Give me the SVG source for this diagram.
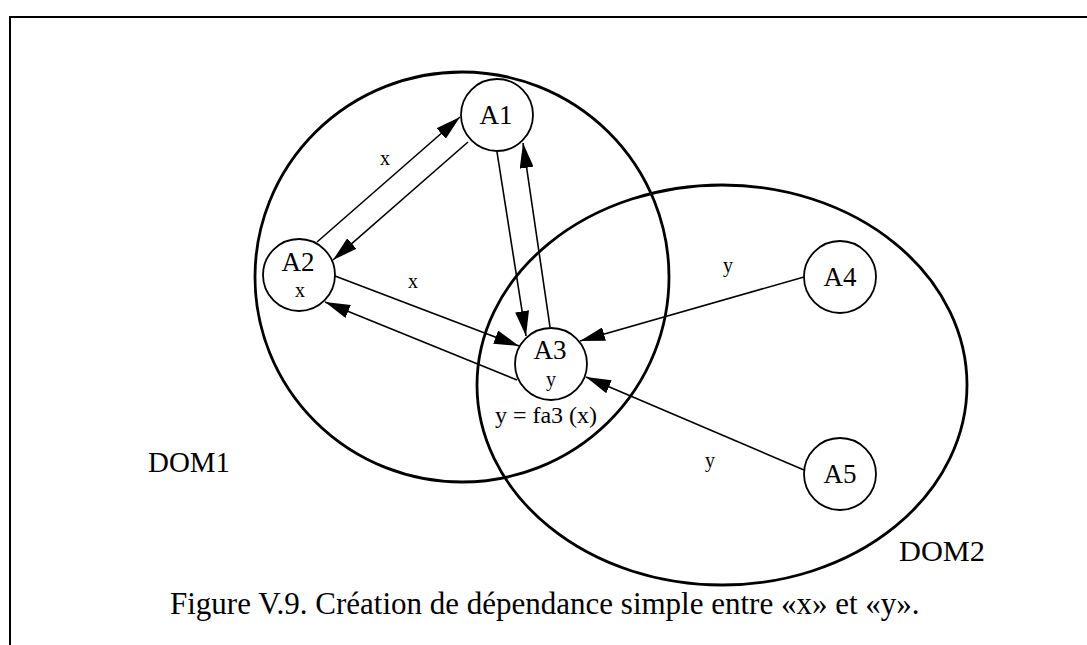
<svg xmlns="http://www.w3.org/2000/svg" width="1087" height="645" viewBox="0 0 1087 645">
<style>
.bg{fill:#fff}
.frame{stroke:#000;stroke-width:2;fill:none}
.dom{fill:none;stroke:#000;stroke-width:2.8}
.node{fill:#fff;stroke:#000;stroke-width:1.8}
.edge{stroke:#000;stroke-width:1.6;fill:none;marker-end:url(#ah)}
text{font-family:"Liberation Serif","Times New Roman",serif;fill:#000}
.nl{font-size:27px;text-anchor:middle}
.sl{font-size:20px;text-anchor:middle}
.dl{font-size:29px}
</style>
<defs>
<marker id="ah" viewBox="0 0 25 14" refX="25" refY="7" markerWidth="25" markerHeight="14" markerUnits="userSpaceOnUse" orient="auto">
<path d="M0,0 L25,7 L0,14 Z" fill="#000"/>
</marker>
</defs>
<rect class="bg" x="0" y="0" width="1087" height="645"/>
<g id="frame">
<path class="frame" d="M10,645 L10,17 L1087,17"/>
</g>
<g id="DOM1">
<ellipse class="dom" cx="462" cy="277" rx="207" ry="205"/>
<text class="dl" x="148" y="472" textLength="82" lengthAdjust="spacingAndGlyphs">DOM1</text>
</g>
<g id="DOM2">
<ellipse class="dom" cx="722" cy="385" rx="245" ry="200"/>
<text class="dl" x="899" y="561" textLength="86" lengthAdjust="spacingAndGlyphs">DOM2</text>
</g>
<g id="connectors">
<line class="edge" x1="317" y1="242" x2="460" y2="117"/>
<line class="edge" x1="468" y1="142" x2="333" y2="260"/>
<line class="edge" x1="497" y1="152" x2="526" y2="336"/>
<line class="edge" x1="550" y1="327" x2="523" y2="143"/>
<line class="edge" x1="335" y1="276" x2="519" y2="346"/>
<line class="edge" x1="517" y1="380" x2="325" y2="302"/>
<line class="edge" x1="804" y1="277" x2="580" y2="341"/>
<line class="edge" x1="804" y1="470" x2="586" y2="377"/>
<text class="sl" x="385" y="165">x</text>
<text class="sl" x="413" y="288">x</text>
<text class="sl" x="728" y="272">y</text>
<text class="sl" x="710" y="467">y</text>
</g>
<g id="A1">
<circle class="node" cx="497" cy="115" r="36"/>
<text class="nl" x="496" y="124">A1</text>
</g>
<g id="A2">
<circle class="node" cx="299" cy="275" r="36"/>
<text class="nl" x="298" y="271">A2</text>
<text class="sl" x="300" y="297">x</text>
</g>
<g id="A3">
<circle class="node" cx="551" cy="364" r="36"/>
<text class="nl" x="550" y="359">A3</text>
<text class="sl" x="551" y="386">y</text>
<text class="sl" x="546" y="423" style="font-size:24px">y = fa3 (x)</text>
</g>
<g id="A4">
<circle class="node" cx="840" cy="277" r="36"/>
<text class="nl" x="840" y="286">A4</text>
</g>
<g id="A5">
<circle class="node" cx="840" cy="474" r="36"/>
<text class="nl" x="840" y="483">A5</text>
</g>
<g id="caption">
<text x="170" y="614" style="font-size:31px">Figure V.9. Création de dépendance simple entre «x» et «y».</text>
</g>
</svg>
